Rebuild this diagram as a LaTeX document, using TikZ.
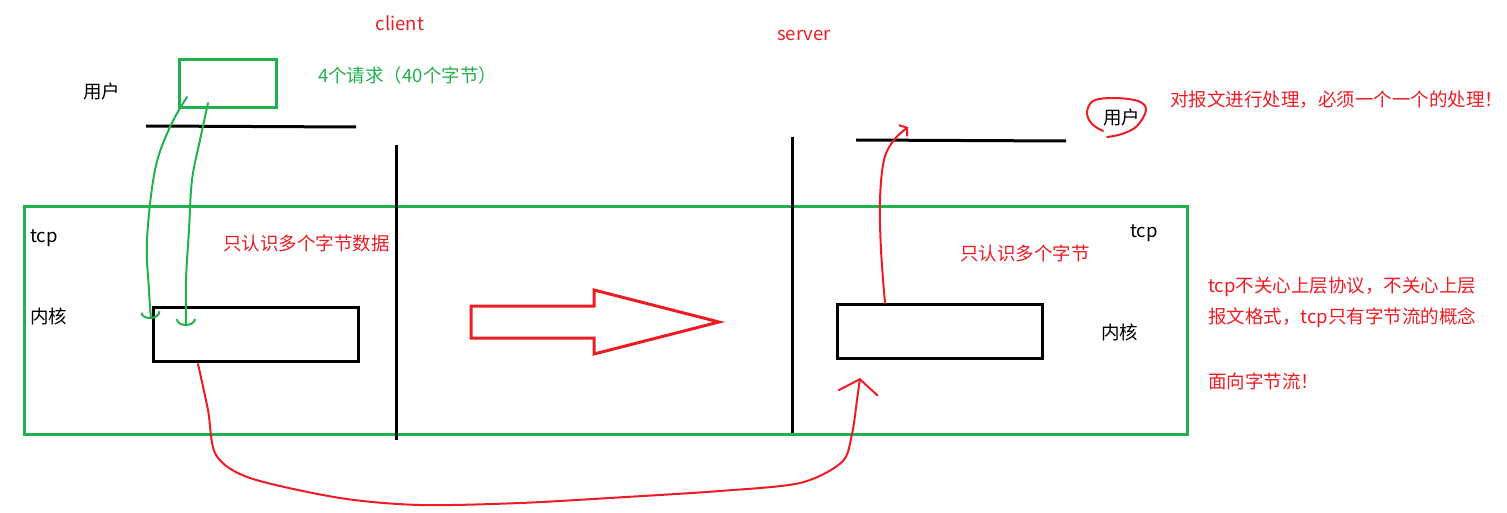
\documentclass[tikz,border=0pt]{standalone}
\usepackage{fontspec}
\setmainfont{Noto Sans CJK SC}
\usetikzlibrary{arrows.meta}
\definecolor{pgreen}{RGB}{34,177,76}
\definecolor{pred}{RGB}{237,28,36}
\tikzset{
  blkline/.style={line width=3pt,black},
  grnbox/.style={draw=pgreen,line width=3pt,inner sep=0pt},
  blkbox/.style={draw=black,line width=3pt,inner sep=0pt},
  grnstroke/.style={draw=pgreen,line width=2pt,line cap=round,-{Arc Barb[length=7pt,width=20pt]}},
  redstroke/.style={draw=pred,line width=2pt,line cap=round},
  lbl/.style={inner sep=0pt,font=\fontsize{18.5pt}{22pt}\selectfont},
}
\begin{document}
\begin{tikzpicture}[x=1pt,y=-1pt]
\useasboundingbox (0,0) rectangle (1507,513);
% boxes
\node[grnbox,minimum width=97pt,minimum height=48pt] (ubox) at (227.5,84) {};
\node[grnbox,minimum width=1163pt,minimum height=227pt] (tcpbox) at (605.5,320.5) {};
\node[blkbox,minimum width=205pt,minimum height=54pt] (ckern) at (255.5,334) {};
\node[blkbox,minimum width=205pt,minimum height=54pt] (skern) at (939.5,331) {};
% black lines
\draw[blkline] (146,126) -- (356,127);
\draw[blkline] (856,140) -- (1066,141);
\draw[blkline] (396,145) -- (396,440);
\draw[blkline] (792,137) -- (792,433);
% texts
\node[lbl,text=pred] (client) at (400,23) {client};
\node[lbl,text=pred] (server) at (804,35) {server};
\node[lbl,text=pgreen,anchor=west] (req) at (318,75) {4个请求（40个字节）};
\node[lbl,anchor=west] (cuser) at (83,91) {用户};
\node[lbl,anchor=west] (suser) at (1103,117) {用户};
\node[lbl,text=pred,anchor=west] (proc) at (1170,100) {对报文进行处理，必须一个一个的处理！};
\node[lbl,anchor=west] (ctcp) at (30,238) {tcp};
\node[lbl,anchor=west] (stcp) at (1130,233) {tcp};
\node[lbl,text=pred,anchor=west] (cknow) at (223,243) {只认识多个字节数据};
\node[lbl,text=pred,anchor=west] (sknow) at (960,253) {只认识多个字节};
\node[lbl,anchor=west] (ckl) at (30,316) {内核};
\node[lbl,anchor=west] (skl) at (1101,332) {内核};
\node[lbl,text=pred,anchor=west] (n1) at (1208,287) {tcp不关心上层协议，不关心上层};
\node[lbl,text=pred,anchor=west] (n2) at (1208,318) {报文格式，tcp只有字节流的概念};
\node[lbl,text=pred,anchor=west] (n3) at (1208,381) {面向字节流！};
% big red arrow
\draw[draw=pred,line width=3pt,line join=miter] (471,306) -- (594,306) -- (594,290) -- (719,322) -- (594,354) -- (594,338) -- (471,338) -- cycle;
% green hand strokes from user box to kernel
\draw[grnstroke] plot[smooth,tension=0.6] coordinates {(187,97) (170,127) (155,170) (147,240) (149,290) (151,319)};
\draw[grnstroke] plot[smooth,tension=0.6] coordinates {(208,103) (200,140) (192,180) (189,230) (186,280) (186,326)};
% red stroke: client kernel to server kernel
\draw[redstroke,-{Straight Barb[length=14pt,width=40pt]}] plot[smooth,tension=0.5] coordinates {(198,364) (208,410) (216,455) (250,478) (340,498) (420,505) (520,503) (626,497) (720,491) (800,483) (842,462) (852,434) (857,400) (860,378)};
% red stroke: server kernel up to user
\draw[redstroke,-{Straight Barb[length=5pt,width=14pt]}] plot[smooth,tension=0.6] coordinates {(885,303) (881,250) (880,200) (884,160) (894,140) (908,127)};
% red loop around server user
\draw[redstroke] plot[smooth,tension=0.6] coordinates {(1107,137) (1122,134) (1137,126) (1146,110) (1138,101) (1113,98) (1093,101) (1087,113) (1092,124) (1103,131)};
\end{tikzpicture}
\end{document}
